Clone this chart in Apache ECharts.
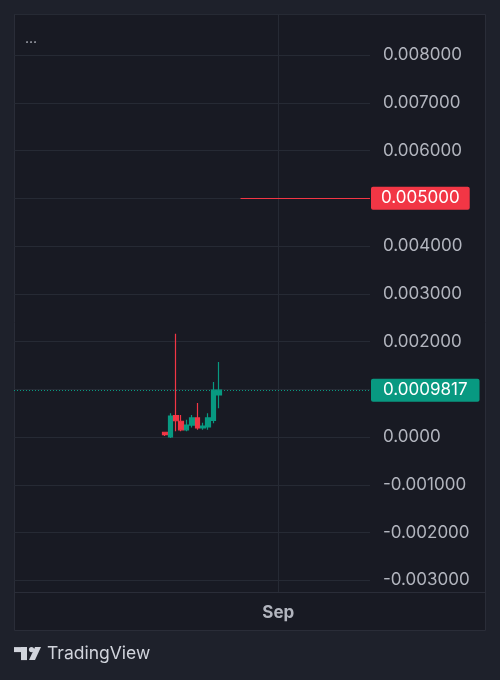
<!DOCTYPE html>
<html>
<head>
<meta charset="utf-8">
<script src="https://cdn.jsdelivr.net/npm/echarts@6/dist/echarts.min.js"></script>
<style>
  html, body { margin: 0; padding: 0; background: #1e212b; }
  #chart { width: 500px; height: 680px; }
</style>
</head>
<body>
<div id="chart"></div>
<script>
// 日K数据 [open, close, low, high]
const candleDates = ['2023-08-11', '2023-08-12', '2023-08-13', '2023-08-14', '2023-08-15', '2023-08-16',
  '2023-08-17', '2023-08-18', '2023-08-19', '2023-08-20', '2023-08-21']
const candleOpen = [0.00010, 0.00000, 0.00045, 0.00033, 0.00015, 0.00025, 0.00040, 0.00019, 0.00021, 0.00035, 0.00088]
const candleClose = [0.00005, 0.00044, 0.00034, 0.00015, 0.00025, 0.00040, 0.00019, 0.00023, 0.00040, 0.00098, 0.00098]
const candleLow = [0.00002, -0.00002, 0.00012, 0.00012, 0.00012, 0.00020, 0.00015, 0.00015, 0.00015, 0.00029, 0.00060]
const candleHigh = [0.00011, 0.00050, 0.00216, 0.00046, 0.00036, 0.00046, 0.00071, 0.00030, 0.00050, 0.00115, 0.00157]

// 时间轴范围
const axisStart = '2023-07-14'
const axisEnd = '2023-09-18'
const monthTick = '2023-09-01'
const monthName = 'Sep'

// 价格线
const alertPrice = 0.005
const alertFrom = '2023-08-25'
const lastPrice = 0.0009817

// 价格轴范围
const priceMin = -0.003246
const priceMax = 0.008859
const priceStep = 0.001

const UP = '#089981'
const DOWN = '#f23645'
const TEXT = '#b2b5be'
const GRID = '#262a34'
const FONT = 'Inter, Roboto, "Noto Sans", sans-serif'

// 生成日期轴
const days = []
let t = Date.parse(axisStart + 'T00:00:00Z')
const tEnd = Date.parse(axisEnd + 'T00:00:00Z')
while (t <= tEnd) {
  days.push(new Date(t).toISOString().slice(0, 10))
  t += 86400000
}

const seriesData = days.map(d => {
  const i = candleDates.indexOf(d)
  if (i < 0) return '-'
  return [candleOpen[i], candleClose[i], candleLow[i], candleHigh[i]]
})

const isMonthTick = (idx, val) => val === monthTick

const chart = echarts.init(document.getElementById('chart'))
const option = {
  backgroundColor: '#1e212b',
  animation: false,
  textStyle: { fontFamily: FONT },
  graphic: [
    {
      type: 'rect', z: -10, silent: true,
      shape: { x: 14.5, y: 14.5, width: 471, height: 616 },
      style: { fill: '#181a23', stroke: '#2a2d38', lineWidth: 1 }
    },
    {
      type: 'line', z: 10, silent: true,
      shape: { x1: 14, y1: 592.5, x2: 485, y2: 592.5 },
      style: { stroke: '#2a2d38', lineWidth: 1 }
    },
    {
      type: 'text', left: 25, top: 32, silent: true,
      style: { text: '...', fill: TEXT, font: '14px ' + FONT }
    },
    // TradingView 标志
    {
      type: 'group', left: 14, top: 647, silent: true,
      children: [
        { type: 'rect', shape: { x: 0, y: 1, width: 13, height: 5 }, style: { fill: '#d1d4dc' } },
        { type: 'rect', shape: { x: 7, y: 1, width: 6, height: 13 }, style: { fill: '#d1d4dc' } },
        { type: 'circle', shape: { cx: 17.5, cy: 3.5, r: 2.6 }, style: { fill: '#d1d4dc' } },
        { type: 'polygon', shape: { points: [[21, 1], [27, 1], [21, 14], [15, 14]] }, style: { fill: '#d1d4dc' } }
      ]
    },
    {
      type: 'text', left: 47, top: 645, silent: true,
      style: { text: 'TradingView', fill: '#d1d4dc', font: '17.5px ' + FONT }
    }
  ],
  grid: {
    left: 14,
    right: 130,
    top: 14,
    bottom: 88
  },
  xAxis: {
    type: 'category',
    data: days,
    boundaryGap: false,
    axisLine: { show: false },
    axisTick: { show: false },
    axisLabel: {
      interval: isMonthTick,
      formatter: () => monthName,
      color: TEXT,
      fontSize: 17,
      fontWeight: 'bold',
      margin: 12
    },
    splitLine: {
      show: true,
      interval: isMonthTick,
      lineStyle: { color: GRID, width: 1 }
    }
  },
  yAxis: {
    type: 'value',
    position: 'right',
    min: priceMin,
    max: priceMax,
    splitNumber: 12,
    minInterval: priceStep,
    maxInterval: priceStep,
    axisLine: { show: false },
    axisTick: { show: false },
    axisLabel: {
      showMinLabel: false,
      showMaxLabel: false,
      margin: 13,
      color: TEXT,
      fontSize: 17,
      formatter: v => Math.abs(v) < 1e-12 ? '0.0000' : v.toFixed(6)
    },
    splitLine: {
      lineStyle: { color: GRID, width: 1 }
    }
  },
  series: [{
    type: 'candlestick',
    data: seriesData,
    barWidth: 5,
    itemStyle: {
      color: UP,
      color0: DOWN,
      borderColor: UP,
      borderColor0: DOWN,
      borderWidth: 1.2
    }
  }, {
    // 价格线
    type: 'line',
    data: days.map(() => '-'),
    showSymbol: false,
    silent: true,
    markLine: {
      silent: true,
      precision: 8,
      symbol: ['none', 'none'],
      animation: false,
      data: [
        [
          {
            coord: [alertFrom, alertPrice],
            lineStyle: { color: DOWN, width: 1, type: 'solid' },
            label: {
              show: true,
              position: 'end',
              distance: 1,
              formatter: alertPrice.toFixed(6),
              color: '#ffffff',
              backgroundColor: DOWN,
              fontSize: 17,
              padding: [3, 10, 3, 10],
              borderRadius: 2
            }
          },
          { coord: [days[days.length - 1], alertPrice] }
        ],
        {
          yAxis: lastPrice,
          lineStyle: { color: UP, width: 1, type: [1, 2] },
          label: {
            show: true,
            position: 'end',
            distance: 1,
            formatter: String(lastPrice),
            color: '#ffffff',
            backgroundColor: UP,
            fontSize: 17,
            padding: [3, 12, 3, 12],
            borderRadius: 2
          }
        }
      ]
    }
  }]
}
chart.setOption(option)
</script>
</body>
</html>
